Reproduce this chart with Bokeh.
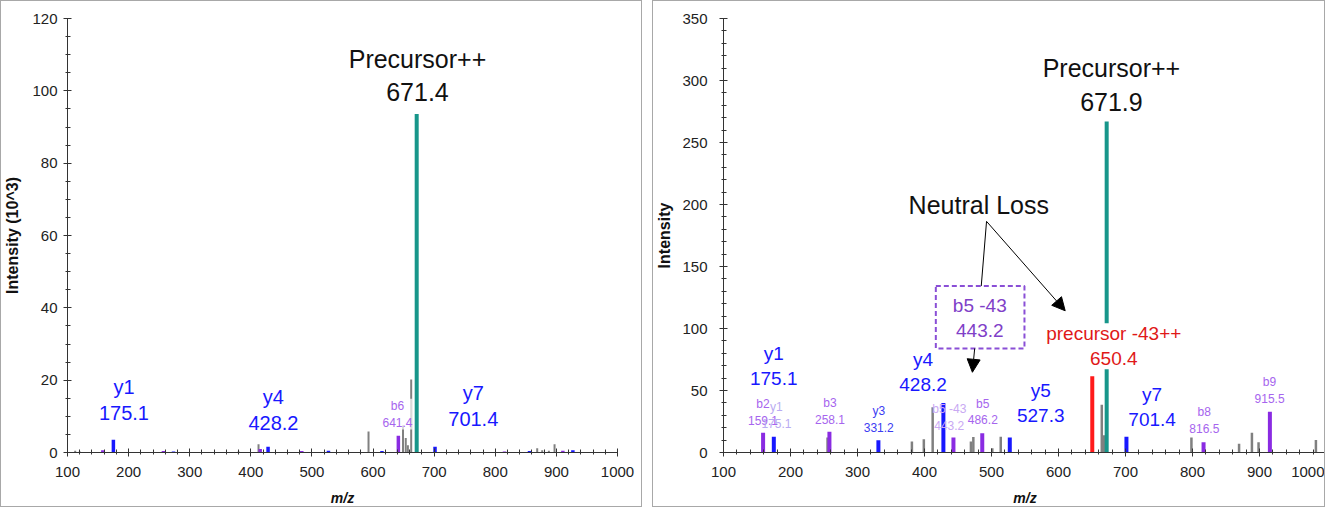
from bokeh.plotting import figure
from bokeh.layouts import row
from bokeh.models import Range1d, SingleIntervalTicker, Arrow, NormalHead, Label, BoxAnnotation
from bokeh.embed import file_html
from bokeh.resources import INLINE

# ---------------- data: left spectrum (intensity x10^3) ----------------
L_gray_mz = [112.6, 120.0, 380.0, 412.6, 592.6, 649.0, 653.5, 657.0, 662.4, 868.6, 876.8, 887.7, 897.0]
L_gray_int = [0.5, 0.3, 0.3, 2.3, 5.8, 7.5, 4.0, 2.0, 20.2, 1.2, 0.6, 0.5, 2.3]
L_purple_mz = [157.8, 257.0, 415.3, 483.4, 641.4, 815.1, 910.6]
L_purple_int = [0.6, 0.4, 1.0, 0.4, 4.6, 0.3, 0.5]
L_blue_mz = [175.1, 273.5, 428.2, 527.0, 614.6, 701.4, 856.0, 927.0]
L_blue_int = [3.5, 0.3, 1.6, 0.5, 0.4, 1.6, 0.4, 0.6]
L_prec_mz = [671.4]
L_prec_int = [93.6]

# ---------------- data: right spectrum ----------------
R_gray_mz = [255.3, 381.2, 399.0, 412.2, 469.3, 472.9, 501.2, 513.8, 664.6, 668.0, 798.4, 869.5, 888.7, 898.6, 984.2]
R_gray_int = [12.0, 8.8, 10.7, 36.5, 8.8, 12.5, 3.5, 12.8, 38.6, 14.0, 12.0, 7.0, 16.0, 8.2, 10.1]
R_purple_mz = [159.1, 258.1, 443.2, 486.2, 816.5, 915.5]
R_purple_int = [16.0, 16.8, 12.0, 15.5, 8.2, 32.8]
R_blue_mz = [175.1, 331.2, 428.2, 527.3, 701.4]
R_blue_int = [12.8, 9.9, 40.0, 12.0, 12.8]
R_loss_mz = [650.4]
R_loss_int = [61.5]
R_prec_mz = [671.9]
R_prec_int = [267.0]

X_TICK = 100
L_Y_TICK = 20
R_Y_TICK = 50

TEAL = "#17968a"
BLUE = "#1818ff"
PURPLE = "#8a2be2"
GRAY = "#808080"
RED = "#ff1a1a"
LBL_PURPLE = "#a665ee"
TICK_FONT = "Liberation Sans"
BIG_FONT = "Liberation Sans"


def base_fig(width, height, ymax, ytick, nminor, ml, mr, mt, mb, ylabel, lstand, astand):
    p = figure(width=width, height=height, x_range=Range1d(100, 1000), y_range=Range1d(0, ymax),
               output_backend="svg", toolbar_location=None, tools="",
               min_border_left=ml, min_border_right=mr, min_border_top=mt, min_border_bottom=mb)
    p.grid.visible = False
    p.outline_line_color = None
    p.background_fill_color = "white"
    p.border_fill_color = "white"
    p.styles = {"border": "1px solid #a8a8a8"}
    p.xaxis.ticker = SingleIntervalTicker(interval=X_TICK, num_minor_ticks=5)
    p.yaxis.ticker = SingleIntervalTicker(interval=ytick, num_minor_ticks=nminor)
    for ax in (p.xaxis, p.yaxis):
        ax.axis_line_color = "#333333"
        ax.major_tick_line_color = "#333333"
        ax.minor_tick_line_color = "#333333"
        ax.major_tick_in = 4
        ax.major_tick_out = 4
        ax.minor_tick_in = 3
        ax.minor_tick_out = 2
        ax.major_label_text_font = TICK_FONT
        ax.major_label_text_font_size = "15px"
        ax.major_label_text_color = "#222222"
        ax.axis_label_text_font = BIG_FONT
        ax.axis_label_text_color = "#111111"
    p.xaxis.axis_label = "m/z"
    p.xaxis.axis_label_text_font_size = "14px"
    p.xaxis.axis_label_text_font_style = "bold italic"
    p.xaxis.major_label_standoff = 10
    p.xaxis.axis_label_standoff = 10
    p.yaxis.axis_label = ylabel
    p.yaxis.axis_label_text_font_size = "16px"
    p.yaxis.axis_label_text_font_style = "bold"
    p.yaxis.major_label_standoff = lstand
    p.yaxis.axis_label_standoff = astand
    return p


def bars(p, mz, inten, color, w):
    p.segment(x0=mz, y0=[0] * len(mz), x1=mz, y1=inten, line_color=color, line_width=w, line_cap="butt")


def lab(p, x, y, text, color, size, font=BIG_FONT, bg=None, bg_alpha=1.0, alpha=1.0):
    kw = {}
    if bg is not None:
        kw = dict(background_fill_color=bg, background_fill_alpha=bg_alpha)
    p.add_layout(Label(x=x, y=y, text=text, text_color=color, text_font_size=size, text_font=font,
                       text_align="center", text_baseline="middle", text_line_height=1.2,
                       text_alpha=alpha, **kw))


# ---------------- left panel ----------------
p1 = base_fig(642, 507, 120, L_Y_TICK, 4, 64, 26, 17, 53, "Intensity (10^3)", 6, 8)
bars(p1, L_gray_mz, L_gray_int, GRAY, 2)
bars(p1, L_purple_mz, L_purple_int, PURPLE, 3.5)
bars(p1, L_blue_mz, L_blue_int, BLUE, 3.5)
bars(p1, L_prec_mz, L_prec_int, TEAL, 4)
lab(p1, 672.7, 104.2, "Precursor++\n671.4", "#111111", "25px")
lab(p1, 192.4, 14.5, "y1\n175.1", BLUE, "20px")
lab(p1, 437.0, 11.8, "y4\n428.2", BLUE, "20px")
lab(p1, 764.0, 12.9, "y7\n701.4", BLUE, "20px")
lab(p1, 640.0, 10.6, "b6\n641.4", LBL_PURPLE, "12px", font=TICK_FONT, bg="white", bg_alpha=0.7)

# ---------------- right panel ----------------
p2 = base_fig(673, 507, 350, R_Y_TICK, 5, 70, 0, 15, 54, "Intensity", 12, 6)
# small labels (behind bars)
lab(p2, 159.0, 32.5, "b2\n159.1", LBL_PURPLE, "12px", font=TICK_FONT)
lab(p2, 179.0, 29.7, "y1\n175.1", "#b9abf2", "12px", font=TICK_FONT)
lab(p2, 259.0, 33.2, "b3\n258.1", LBL_PURPLE, "12px", font=TICK_FONT)
lab(p2, 331.7, 26.4, "y3\n331.2", "#3c3cf2", "12px", font=TICK_FONT)
lab(p2, 437.0, 28.5, "b5 -43\n443.2", "#c9a9f3", "12px", font=TICK_FONT)
lab(p2, 487.0, 32.6, "b5\n486.2", LBL_PURPLE, "12px", font=TICK_FONT)
lab(p2, 817.6, 25.7, "b8\n816.5", LBL_PURPLE, "12px", font=TICK_FONT)
lab(p2, 915.0, 49.8, "b9\n915.5", LBL_PURPLE, "12px", font=TICK_FONT)

bars(p2, R_gray_mz, R_gray_int, GRAY, 2.5)
bars(p2, R_purple_mz, R_purple_int, PURPLE, 4)
bars(p2, R_blue_mz, R_blue_int, BLUE, 4)
bars(p2, R_loss_mz, R_loss_int, RED, 4)
bars(p2, R_prec_mz, R_prec_int, TEAL, 4)

lab(p2, 679.0, 296.5, "Precursor++\n671.9", "#111111", "25px")
lab(p2, 175.0, 69.7, "y1\n175.1", BLUE, "19px")
lab(p2, 397.8, 65.1, "y4\n428.2", BLUE, "19px")
lab(p2, 573.5, 39.7, "y5\n527.3", BLUE, "19px")
lab(p2, 739.7, 36.8, "y7\n701.4", BLUE, "19px")
lab(p2, 682.5, 85.7, "precursor -43++\n650.4", "#e01818", "19px", bg="white")
lab(p2, 482.5, 108.7, "b5 -43\n443.2", "#8040c8", "19px")
lab(p2, 481.0, 200.0, "Neutral Loss", "#111111", "25px")

p2.add_layout(BoxAnnotation(left=416.9, right=549.2, bottom=83.9, top=134.2, fill_alpha=0,
                            line_color="#8a4fd6", line_alpha=1.0, line_width=2, line_dash="5 3"))
p2.segment(x0=[492.6], y0=[186.4], x1=[484.7], y1=[134.2], line_color="black", line_width=1)
p2.add_layout(Arrow(end=NormalHead(size=13, fill_color="black", line_color="black"),
                    x_start=492.6, y_start=186.4, x_end=610.0, y_end=114.3,
                    line_color="black", line_width=1))
p2.add_layout(Arrow(end=NormalHead(size=13, fill_color="black", line_color="black"),
                    x_start=474.9, y_start=83.9, x_end=471.5, y_end=64.7,
                    line_color="black", line_width=1))

layout = row(p1, p2, spacing=10)
open("out.html", "w").write(file_html(layout, INLINE))
